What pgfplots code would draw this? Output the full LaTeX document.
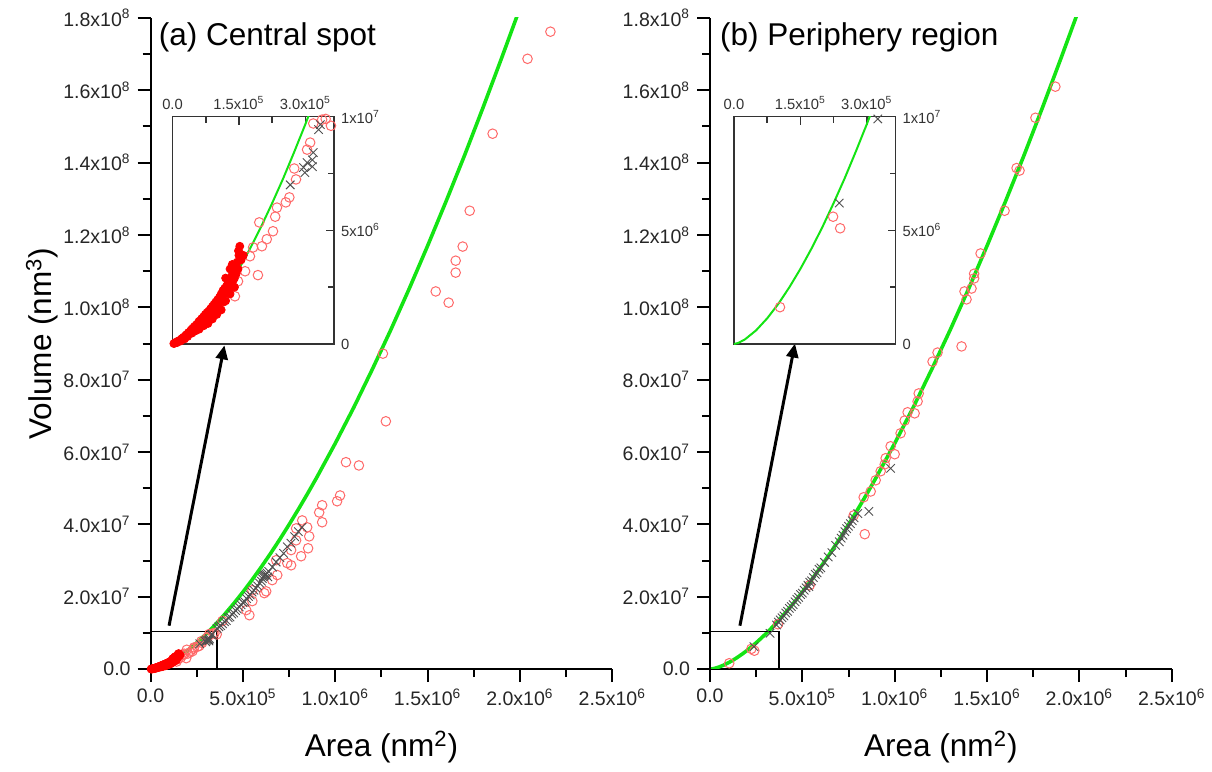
\documentclass[border=0pt]{standalone}
\usepackage{fontspec}
\setmainfont{Liberation Sans}
\usepackage{pgfplots}
\usepackage{pgfplotstable}
\pgfplotsset{compat=1.18}
\usetikzlibrary{arrows.meta}

\definecolor{fitgreen}{RGB}{20,228,20}
\definecolor{opred}{RGB}{255,105,105}
\definecolor{crossgray}{RGB}{80,80,80}

% fitted power law
\pgfplotstableread{
A V
0 0
1e4 4.96e4
2.5e4 2.05e5
5e4 6.01e5
7.5e4 1.127e6
1e5 1.759e6
1.25e5 2.49e6
1.5e5 3.30e6
1.75e5 4.19e6
2e5 5.15e6
2.25e5 6.19e6
2.5e5 7.28e6
2.75e5 8.45e6
3e5 9.66e6
3.25e5 1.094e7
3.5e5 1.226e7
4e5 1.508e7
4.5e5 1.81e7
5e5 2.131e7
5.5e5 2.47e7
6e5 2.828e7
6.5e5 3.20e7
7e5 3.589e7
7.5e5 3.995e7
8e5 4.415e7
8.5e5 4.85e7
9e5 5.30e7
1e6 6.24e7
1.1e6 7.23e7
1.2e6 8.28e7
1.3e6 9.37e7
1.4e6 1.051e8
1.5e6 1.170e8
1.6e6 1.293e8
1.7e6 1.420e8
1.8e6 1.552e8
1.9e6 1.688e8
2.0e6 1.827e8
}\fitcurve

% (a) open circles
\pgfplotstableread{
A V
2.165e6 1.762e8
2.041e6 1.687e8
1.852e6 1.480e8
1.728e6 1.267e8
1.690e6 1.168e8
1.652e6 1.129e8
1.652e6 1.096e8
1.544e6 1.044e8
1.614e6 1.013e8
1.258e6 8.72e7
1.274e6 6.85e7
1.058e6 5.72e7
1.128e6 5.63e7
1.026e6 4.80e7
1.010e6 4.64e7
9.29e5 4.53e7
9.13e5 4.33e7
9.29e5 4.06e7
8.21e5 4.11e7
7.88e5 3.89e7
8.48e5 3.92e7
8.59e5 3.67e7
8.53e5 3.34e7
8.15e5 3.12e7
7.88e5 3.56e7
7.61e5 3.29e7
7.61e5 2.87e7
7.40e5 2.93e7
6.86e5 2.60e7
6.80e5 3.01e7
6.59e5 2.46e7
6.26e5 2.15e7
6.16e5 2.10e7
5.51e5 2.18e7
5.51e5 1.88e7
5.35e5 1.49e7
5.18e5 1.63e7
3.89e5 1.33e7
3.58e5 9.6e6
3.46e5 9.9e6
3.38e5 9.87e6
3.18e5 9.7e6
3.11e5 8.86e6
3.04e5 8.55e6
2.75e5 7.72e6
2.79e5 7.24e6
2.64e5 6.45e6
2.56e5 6.23e6
2.36e5 6.0e6
2.32e5 5.6e6
1.96e5 5.35e6
2.27e5 4.96e6
2.13e5 4.61e6
2.02e5 4.3e6
1.82e5 4.25e6
1.75e5 3.86e6
1.64e5 3.2e6
1.93e5 3.03e6
1.48e5 2.76e6
1.41e5 2.1e6
}\acirc

% (a) crosses
\pgfplotstableread{
A V
2.66e5 7.0e6
2.96e5 7.76e6
3.04e5 7.98e6
3.16e5 8.1e6
3.16e5 7.8e6
2.99e5 7.54e6
3.18e5 8.42e6
3.30e5 9.43e6
3.34e5 9.65e6
3.6e5 1.12e7
3.7e5 1.17e7
3.8e5 1.20e7
3.9e5 1.25e7
4.0e5 1.31e7
4.1e5 1.34e7
4.2e5 1.42e7
4.3e5 1.44e7
4.4e5 1.52e7
4.5e5 1.55e7
4.6e5 1.62e7
4.7e5 1.66e7
4.8e5 1.72e7
4.9e5 1.78e7
5.0e5 1.84e7
5.1e5 1.86e7
5.2e5 1.95e7
5.3e5 2.01e7
5.4e5 2.05e7
5.5e5 2.13e7
5.6e5 2.18e7
5.7e5 2.24e7
5.8e5 2.30e7
5.9e5 2.38e7
6.0e5 2.43e7
6.05e5 2.50e7
6.1e5 2.55e7
6.15e5 2.58e7
6.2e5 2.60e7
6.25e5 2.62e7
6.3e5 2.66e7
6.35e5 2.55e7
6.4e5 2.70e7
6.6e5 2.82e7
6.8e5 2.96e7
7.0e5 3.08e7
7.2e5 3.20e7
7.4e5 3.38e7
7.6e5 3.48e7
7.8e5 3.66e7
8.0e5 3.80e7
8.2e5 3.92e7
}\across

% (a) filled circles
\pgfplotstableread{
A V
3e3 2e4
5e3 4e4
8e3 8e4
1.0e4 6e4
1.2e4 1.2e5
1.5e4 1.5e5
1.8e4 1.3e5
2.0e4 2.2e5
2.2e4 2.5e5
2.5e4 3.0e5
2.7e4 2.2e5
3.0e4 3.8e5
3.2e4 4.2e5
3.4e4 3.3e5
3.6e4 5.0e5
3.8e4 4.5e5
4.0e4 5.5e5
4.2e4 6.2e5
4.4e4 4.8e5
4.6e4 7.0e5
4.8e4 6.6e5
5.0e4 7.8e5
5.2e4 5.8e5
5.4e4 8.5e5
5.6e4 8.0e5
5.8e4 9.2e5
6.0e4 1.00e6
6.0e4 6.5e5
6.2e4 7.5e5
6.4e4 1.05e6
6.6e4 1.12e6
6.8e4 9.5e5
7.0e4 1.20e6
7.0e4 8.0e5
7.2e4 1.10e6
7.4e4 1.30e6
7.6e4 9.8e5
7.8e4 1.38e6
8.0e4 1.25e6
8.0e4 9.0e5
8.2e4 1.45e6
8.4e4 1.20e6
8.6e4 1.55e6
8.8e4 1.40e6
9.0e4 1.65e6
9.0e4 1.10e6
9.2e4 1.50e6
9.4e4 1.75e6
9.6e4 1.30e6
9.8e4 1.85e6
1.00e5 1.70e6
1.00e5 1.30e6
1.02e5 1.95e6
1.04e5 1.60e6
1.06e5 2.05e6
1.08e5 1.90e6
1.10e5 2.20e6
1.10e5 1.50e6
1.12e5 2.00e6
1.14e5 2.35e6
1.16e5 1.85e6
1.18e5 2.45e6
1.20e5 2.25e6
1.20e5 1.90e6
1.20e5 2.90e6
1.22e5 2.55e6
1.24e5 2.40e6
1.26e5 2.70e6
1.28e5 2.30e6
1.30e5 2.85e6
1.30e5 2.20e6
1.30e5 3.30e6
1.32e5 2.60e6
1.34e5 3.00e6
1.35e5 3.50e6
1.36e5 2.75e6
1.38e5 3.20e6
1.40e5 2.90e6
1.40e5 2.50e6
1.42e5 3.40e6
1.44e5 3.10e6
1.46e5 3.60e6
1.48e5 3.30e6
1.49e5 4.10e6
1.50e5 3.90e6
1.52e5 4.30e6
1.55e5 3.70e6
1.60e5 3.90e6
}\afill

% (b) open circles
\pgfplotstableread{
A V
1.87e6 1.61e8
1.762e6 1.524e8
1.676e6 1.378e8
1.66e6 1.385e8
1.595e6 1.267e8
1.465e6 1.149e8
1.43e6 1.093e8
1.43e6 1.08e8
1.378e6 1.044e8
1.416e6 1.052e8
1.389e6 1.022e8
1.362e6 8.92e7
1.232e6 8.75e7
1.205e6 8.5e7
1.13e6 7.62e7
1.124e6 7.4e7
1.108e6 7.07e7
1.07e6 7.1e7
1.054e6 6.87e7
1.032e6 6.52e7
9.78e5 6.16e7
1.0e6 5.94e7
9.51e5 5.83e7
9.46e5 5.66e7
9.24e5 5.47e7
8.97e5 5.22e7
8.70e5 4.91e7
8.32e5 4.75e7
7.78e5 4.25e7
8.38e5 3.73e7
5.4e5 2.32e7
3.68e5 1.24e7
2.40e5 5.09e6
2.24e5 5.6e6
1.04e5 1.62e6
}\bcirc

% (b) crosses
\pgfplotstableread{
A V
2.38e5 6.2e6
3.25e5 9.9e6
3.6e5 1.22e7
3.7e5 1.30e7
3.8e5 1.36e7
3.9e5 1.42e7
4.0e5 1.47e7
4.1e5 1.55e7
4.2e5 1.60e7
4.3e5 1.68e7
4.4e5 1.73e7
4.5e5 1.78e7
4.6e5 1.86e7
4.7e5 1.93e7
4.8e5 1.98e7
4.9e5 2.06e7
5.0e5 2.10e7
5.1e5 2.18e7
5.2e5 2.25e7
5.3e5 2.32e7
5.35e5 2.28e7
5.4e5 2.40e7
5.5e5 2.44e7
5.6e5 2.53e7
5.7e5 2.62e7
5.8e5 2.66e7
5.9e5 2.76e7
6.0e5 2.80e7
6.2e5 2.95e7
6.4e5 3.10e7
6.6e5 3.22e7
6.8e5 3.42e7
7.0e5 3.52e7
7.1e5 3.62e7
7.2e5 3.70e7
7.3e5 3.80e7
7.4e5 3.88e7
7.5e5 3.95e7
7.6e5 4.02e7
7.7e5 4.10e7
7.8e5 4.18e7
8.0e5 4.30e7
8.6e5 4.36e7
9.78e5 5.55e7
}\bcross

\pgfplotsset{
  mainax/.style={
    scale only axis, width=231.5pt, height=326.5pt,
    anchor=south west,
    xmin=0, xmax=2.5e6, ymin=0, ymax=1.8e8,
    axis lines*=left, axis line style={line width=1pt},
    tick align=outside,
    major tick length=6.5pt, minor tick length=4pt,
    every tick/.style={black, line width=1pt},
    scaled x ticks=false, scaled y ticks=false,
    xtick={0,5e5,1e6,1.5e6,2e6,2.5e6},
    minor xtick={2.5e5,7.5e5,1.25e6,1.75e6,2.25e6},
    ytick={0,2e7,4e7,6e7,8e7,1e8,1.2e8,1.4e8,1.6e8,1.8e8},
    minor ytick={1e7,3e7,5e7,7e7,9e7,1.1e8,1.3e8,1.5e8,1.7e8},
    xticklabels={0.0,5.0x10\textsuperscript{5},1.0x10\textsuperscript{6},1.5x10\textsuperscript{6},2.0x10\textsuperscript{6},2.5x10\textsuperscript{6}},
    yticklabels={0.0,2.0x10\textsuperscript{7},4.0x10\textsuperscript{7},6.0x10\textsuperscript{7},8.0x10\textsuperscript{7},1.0x10\textsuperscript{8},1.2x10\textsuperscript{8},1.4x10\textsuperscript{8},1.6x10\textsuperscript{8},1.8x10\textsuperscript{8}},
    tick label style={font=\fontsize{9.8}{11}\selectfont, text=black!85},
    xlabel={Area (nm\textsuperscript{2})},
    xlabel style={at={(axis description cs:0.5,-0.12)}, anchor=center, font=\fontsize{15.8}{18}\selectfont},
  },
  insetax/.style={
    scale only axis, width=81pt, height=114pt,
    anchor=south west,
    xmin=0, xmax=3.65e5, ymin=0, ymax=1e7,
    axis background/.style={fill=white},
    axis line style={line width=0.8pt, black!80},
    tick align=inside,
    major tick length=4pt, minor tick length=3pt,
    every tick/.style={black!80, line width=0.8pt},
    scaled x ticks=false, scaled y ticks=false,
    xtick pos=upper, ytick pos=right,
    xticklabel pos=upper, yticklabel pos=right,
    xtick={0,1.5e5,3e5}, minor xtick={7.5e4,2.25e5},
    ytick={0,5e6,1e7}, minor ytick={2.5e6,7.5e6},
    xticklabels={0.0,1.5x10\textsuperscript{5},3.0x10\textsuperscript{5}},
    yticklabels={0,5x10\textsuperscript{6},1x10\textsuperscript{7}},
    tick label style={font=\fontsize{7.4}{8.5}\selectfont, text=black!80},
  },
  opc/.style={only marks, mark=o, mark size=2.4pt, opred, mark options={line width=0.5pt}},
  crs/.style={only marks, mark=x, mark size=3pt, crossgray, mark options={line width=0.45pt}},
  fil/.style={only marks, mark=*, mark size=2pt, red},
}

\begin{document}
\begin{tikzpicture}[x=1pt,y=1pt]
\path (0,0) rectangle (606,387);

% ---------------- (a) ----------------
\begin{axis}[mainax, at={(75.5pt,51.5pt)},
    ylabel={Volume (nm\textsuperscript{3})},
    ylabel style={at={(axis description cs:-0.235,0.5)}, anchor=center, font=\fontsize{15.8}{18}\selectfont}]
\addplot[opc] table {\acirc};
\addplot[crs] table {\across};
\addplot[fil] table {\afill};
\addplot[fitgreen, line width=1.8pt] table {\fitcurve};
\draw[line width=0.6pt] (axis cs:0,0) rectangle (axis cs:3.6e5,1.05e7);
\draw[line width=1.5pt, -{Triangle[length=7pt,width=6pt]}] (axis cs:1.0e5,1.2e7) -- (axis cs:4.0e5,8.95e7);
\node[anchor=north west, inner sep=0pt, font=\fontsize{15.8}{18}\selectfont] at (rel axis cs:0.017,0.993) {(a) Central spot};
\end{axis}

% ---------------- (b) ----------------
\begin{axis}[mainax, at={(356pt,51.5pt)}]
\addplot[opc] table {\bcirc};
\addplot[crs] table {\bcross};
\addplot[fitgreen, line width=1.8pt] table {\fitcurve};
\draw[line width=0.6pt] (axis cs:0,0) rectangle (axis cs:3.73e5,1.05e7);
\draw[line width=1.5pt, -{Triangle[length=7pt,width=6pt]}] (axis cs:1.62e5,1.2e7) -- (axis cs:4.6e5,9.0e7);
\node[anchor=north west, inner sep=0pt, font=\fontsize{15.8}{18}\selectfont] at (rel axis cs:0.021,0.993) {(b) Periphery region};
\end{axis}

% ---------------- insets ----------------
\begin{axis}[insetax, at={(86.5pt,214.5pt)}]
\addplot[opc] table {\acirc};
\addplot[crs] table {\across};
\addplot[fil] table {\afill};
\addplot[fitgreen, line width=1pt] table {\fitcurve};
\end{axis}

\begin{axis}[insetax, at={(368pt,214.5pt)}]
\addplot[opc] table {\bcirc};
\addplot[crs] table {\bcross};
\addplot[fitgreen, line width=1pt] table {\fitcurve};
\end{axis}
\end{tikzpicture}
\end{document}
